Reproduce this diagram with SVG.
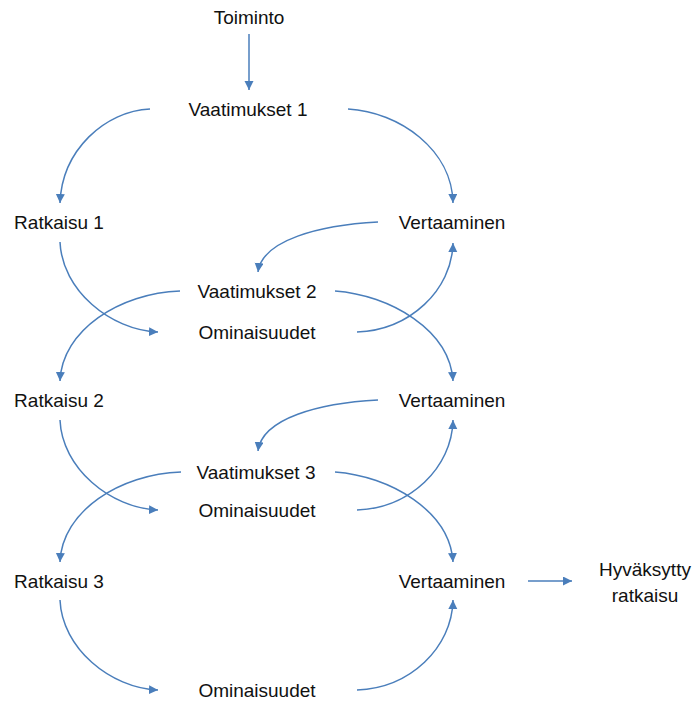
<svg xmlns="http://www.w3.org/2000/svg" width="693" height="702" viewBox="0 0 693 702">
  <defs>
    <style>
      .lbl { font-family: "Liberation Sans", Arial, sans-serif; font-size: 19px; fill: #111; text-anchor: middle; }
      .edge { fill: none; stroke: #4A7EBB; stroke-width: 1.5; marker-end: url(#head); }
    </style>
    <marker id="head" markerUnits="userSpaceOnUse" markerWidth="10" markerHeight="10" refX="9" refY="4.5" orient="auto">
      <path d="M0,0 L9,4.5 L0,9 z" fill="#4A7EBB"/>
    </marker>
  </defs>
  <rect width="693" height="702" fill="#fff"/>

  <g id="toiminto"><text class="lbl" x="249" y="24">Toiminto</text></g>
  <g id="vaatimukset1"><text class="lbl" x="248" y="116">Vaatimukset 1</text></g>
  <g id="ratkaisu1"><text class="lbl" x="59" y="229">Ratkaisu 1</text></g>
  <g id="vertaaminen1"><text class="lbl" x="452" y="229">Vertaaminen</text></g>
  <g id="vaatimukset2"><text class="lbl" x="257" y="298">Vaatimukset 2</text></g>
  <g id="ominaisuudet1"><text class="lbl" x="257" y="339">Ominaisuudet</text></g>
  <g id="ratkaisu2"><text class="lbl" x="59" y="407">Ratkaisu 2</text></g>
  <g id="vertaaminen2"><text class="lbl" x="452" y="407">Vertaaminen</text></g>
  <g id="vaatimukset3"><text class="lbl" x="256" y="479">Vaatimukset 3</text></g>
  <g id="ominaisuudet2"><text class="lbl" x="257" y="517">Ominaisuudet</text></g>
  <g id="ratkaisu3"><text class="lbl" x="59" y="588">Ratkaisu 3</text></g>
  <g id="vertaaminen3"><text class="lbl" x="452" y="588">Vertaaminen</text></g>
  <g id="ominaisuudet3"><text class="lbl" x="257" y="697">Ominaisuudet</text></g>
  <g id="hyvaksytty"><text class="lbl" x="645" y="576">Hyväksytty</text><text class="lbl" x="645" y="602">ratkaisu</text></g>

  <g id="connectors">
    <path class="edge" d="M249,34 L249,90"/>
    <path class="edge" d="M150,109 C105,111 62,150 60,203"/>
    <path class="edge" d="M348,109 C400,112 452,150 453,203"/>
    <path class="edge" d="M378,222 C320,225 262,240 258,272"/>
    <path class="edge" d="M60,242 C62,290 110,330 158,332"/>
    <path class="edge" d="M180,291 C120,293 62,330 60,381"/>
    <path class="edge" d="M335,291 C390,295 450,330 453,381"/>
    <path class="edge" d="M357,332 C410,330 452,290 453,243"/>
    <path class="edge" d="M378,400 C320,403 262,418 258,451"/>
    <path class="edge" d="M60,420 C62,468 110,508 158,510"/>
    <path class="edge" d="M181,472 C120,474 62,511 60,562"/>
    <path class="edge" d="M335,472 C390,476 450,511 453,562"/>
    <path class="edge" d="M357,510 C410,508 452,468 453,420"/>
    <path class="edge" d="M60,600 C62,648 110,688 158,690"/>
    <path class="edge" d="M357,690 C410,688 452,648 453,600"/>
    <path class="edge" d="M528,581 L572,581"/>
  </g>
</svg>
